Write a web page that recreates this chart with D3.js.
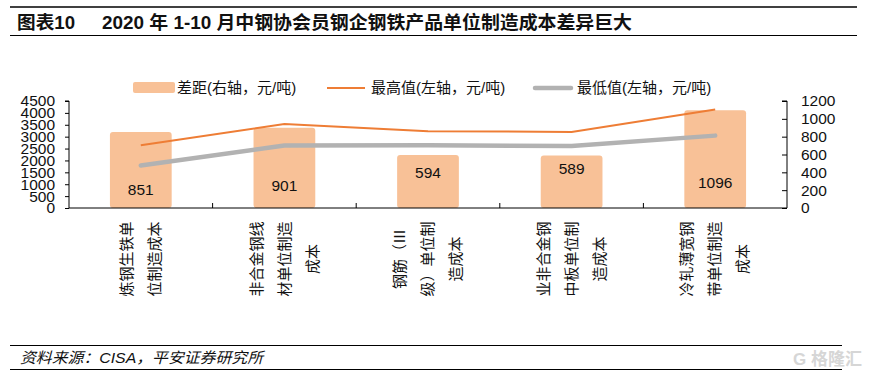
<!DOCTYPE html>
<html>
<head>
<meta charset="utf-8">
<script src="https://cdn.jsdelivr.net/npm/d3@7"></script>
<style>
  body { margin: 0; background: #fff; }
  text { font-family: "Liberation Sans", "Noto Sans CJK SC", sans-serif; fill: #111; }
</style>
</head>
<body>
<script>
// categories, each split into the lines shown under the axis
var categories = [
    ["炼钢生铁单", "位制造成本"],
    ["非合金钢线", "材单位制造", "成本"],
    ["钢筋（Ⅲ", "级）单位制", "造成本"],
    ["业非合金钢", "中板单位制", "造成本"],
    ["冷轧薄宽钢", "带单位制造", "成本"]
];
var gap = [851, 901, 594, 589, 1096];          // right axis
var maxCost = [2640, 3530, 3230, 3200, 4140];  // left axis
var minCost = [1789, 2629, 2636, 2611, 3044];  // left axis
var leftTicks = [0, 500, 1000, 1500, 2000, 2500, 3000, 3500, 4000, 4500];
var rightTicks = [0, 200, 400, 600, 800, 1000, 1200];

var W = 869, H = 373;
var plot = {left: 69, right: 787, top: 101, bottom: 208};

var svg = d3.select("body").append("svg")
            .attr("width", W)
            .attr("height", H);

// title block
svg.append("line").attr("x1", 10).attr("x2", 857).attr("y1", 7).attr("y2", 7)
   .attr("stroke", "#000").attr("stroke-width", 1.5);
svg.append("line").attr("x1", 10).attr("x2", 857).attr("y1", 35.5).attr("y2", 35.5)
   .attr("stroke", "#000").attr("stroke-width", 1.2);
svg.append("text").attr("x", 17).attr("y", 29)
   .style("font-size", "18px").style("font-weight", "bold")
   .attr("textLength", 58).attr("lengthAdjust", "spacingAndGlyphs")
   .text("图表10");
svg.append("text").attr("x", 102).attr("y", 29)
   .style("font-size", "18px").style("font-weight", "bold")
   .attr("textLength", 530).attr("lengthAdjust", "spacingAndGlyphs")
   .text("2020 年 1-10 月中钢协会员钢企钢铁产品单位制造成本差异巨大");

var x = d3.scaleBand()
          .domain(d3.range(categories.length))
          .range([plot.left, plot.right])
          .paddingInner(0.57)
          .paddingOuter(0.285);

var xb = d3.scaleBand()
           .domain(d3.range(categories.length))
           .range([plot.left, plot.right]);

var yL = d3.scaleLinear().domain([0, 4500]).range([plot.bottom, plot.top]);
var yR = d3.scaleLinear().domain([0, 1200]).range([plot.bottom, plot.top]);

// bars (gap, right axis)
svg.selectAll(".bar")
   .data(gap)
   .enter().append("rect")
   .attr("class", "bar")
   .attr("x", function(d, i) { return x(i); })
   .attr("width", x.bandwidth())
   .attr("y", function(d) { return yR(d); })
   .attr("height", function(d) { return plot.bottom - yR(d); })
   .attr("rx", 3)
   .attr("fill", "#F8C197");

// bar labels, nudged like in the source
var labelShift = [57, 58, 18, 13, 72];
svg.selectAll(".blabel")
   .data(gap)
   .enter().append("text")
   .attr("class", "blabel")
   .attr("x", function(d, i) { return xb(i) + xb.bandwidth() / 2; })
   .attr("y", function(d, i) { return yR(d) + labelShift[i]; })
   .attr("dy", "0.35em")
   .style("text-anchor", "middle")
   .style("font-size", "15.5px")
   .text(function(d) { return d; });

// lines
var line = d3.line()
             .x(function(d, i) { return xb(i) + xb.bandwidth() / 2; })
             .y(function(d) { return yL(d); });

svg.append("path").datum(minCost)
   .attr("d", line)
   .attr("fill", "none")
   .attr("stroke", "#B2B2B2")
   .attr("stroke-width", 4.5)
   .attr("stroke-linecap", "round")
   .attr("stroke-linejoin", "round");

svg.append("path").datum(maxCost)
   .attr("d", line)
   .attr("fill", "none")
   .attr("stroke", "#EE7D35")
   .attr("stroke-width", 2);

// left axis
var axL = svg.append("g")
   .attr("transform", "translate(" + plot.left + ",0)")
   .call(d3.axisLeft(yL).tickValues(leftTicks).tickSize(4).tickPadding(10).tickFormat(d3.format("d")));
axL.select(".domain").attr("stroke", "#000").attr("d", "M-4," + plot.top + "H0V" + plot.bottom);
axL.selectAll("text").style("font-size", "15.5px").attr("fill", "#111")
   .style("font-family", "'Liberation Sans', sans-serif");

// right axis
var axR = svg.append("g")
   .attr("transform", "translate(" + plot.right + ",0)")
   .call(d3.axisRight(yR).tickValues(rightTicks).tickSize(-5).tickPadding(14).tickFormat(d3.format("d")));
axR.select(".domain").attr("stroke", "#000").attr("d", "M-5," + plot.top + "H0V" + plot.bottom);
axR.selectAll("text").style("font-size", "15.5px").attr("fill", "#111")
   .style("font-family", "'Liberation Sans', sans-serif");

// bottom axis with category dividers
svg.append("line")
   .attr("x1", plot.left).attr("x2", plot.right)
   .attr("y1", plot.bottom).attr("y2", plot.bottom)
   .attr("stroke", "#000");
svg.selectAll(".divider")
   .data(d3.range(1, categories.length))
   .enter().append("line")
   .attr("class", "divider")
   .attr("x1", function(d) { return xb(d); })
   .attr("x2", function(d) { return xb(d); })
   .attr("y1", plot.bottom - 5).attr("y2", plot.bottom)
   .attr("stroke", "#000");

// category labels, rotated, one column per line
var lineGap = 28, labelMid = 259;
categories.forEach(function(lines, i) {
    var cx = xb(i) + xb.bandwidth() / 2;
    lines.forEach(function(s, j) {
        var lx = cx + (j - (lines.length - 1) / 2) * lineGap;
        svg.append("text")
           .attr("transform", "translate(" + lx + "," + labelMid + ") rotate(-90)")
           .attr("dy", "0.35em")
           .style("text-anchor", "middle")
           .style("font-size", "15px")
           .style("font-family", "'Noto Sans CJK SC', sans-serif")
           .text(s);
    });
});

// legend
var legend = svg.append("g");
legend.append("rect").attr("x", 133).attr("y", 82).attr("width", 42).attr("height", 11)
      .attr("rx", 2).attr("fill", "#F8C197");
legend.append("text").attr("x", 177).attr("y", 88).attr("dy", "0.35em")
      .style("font-size", "15px").text("差距(右轴，元/吨)");
legend.append("line").attr("x1", 327).attr("x2", 365).attr("y1", 88).attr("y2", 88)
      .attr("stroke", "#EE7D35").attr("stroke-width", 2);
legend.append("text").attr("x", 371).attr("y", 88).attr("dy", "0.35em")
      .style("font-size", "15px").text("最高值(左轴，元/吨)");
legend.append("line").attr("x1", 535).attr("x2", 571).attr("y1", 88).attr("y2", 88)
      .attr("stroke", "#B2B2B2").attr("stroke-width", 4.5).attr("stroke-linecap", "round");
legend.append("text").attr("x", 577).attr("y", 88).attr("dy", "0.35em")
      .style("font-size", "15px").text("最低值(左轴，元/吨)");

// source block
svg.append("line").attr("x1", 10).attr("x2", 842).attr("y1", 345.5).attr("y2", 345.5)
   .attr("stroke", "#000").attr("stroke-width", 1.2);
svg.append("line").attr("x1", 10).attr("x2", 842).attr("y1", 369.5).attr("y2", 369.5)
   .attr("stroke", "#000").attr("stroke-width", 1.2);
svg.append("text").attr("x", 20).attr("y", 363)
   .style("font-size", "15px").style("font-style", "italic")
   .attr("textLength", 243).attr("lengthAdjust", "spacingAndGlyphs")
   .text("资料来源：CISA，平安证券研究所");

// watermark
svg.append("text").attr("x", 862).attr("y", 365)
   .style("text-anchor", "end").style("font-size", "17px")
   .style("font-weight", "bold").attr("fill", "#d6d6d6")
   .style("fill", "#d6d6d6")
   .text("G 格隆汇");
</script>
</body>
</html>
